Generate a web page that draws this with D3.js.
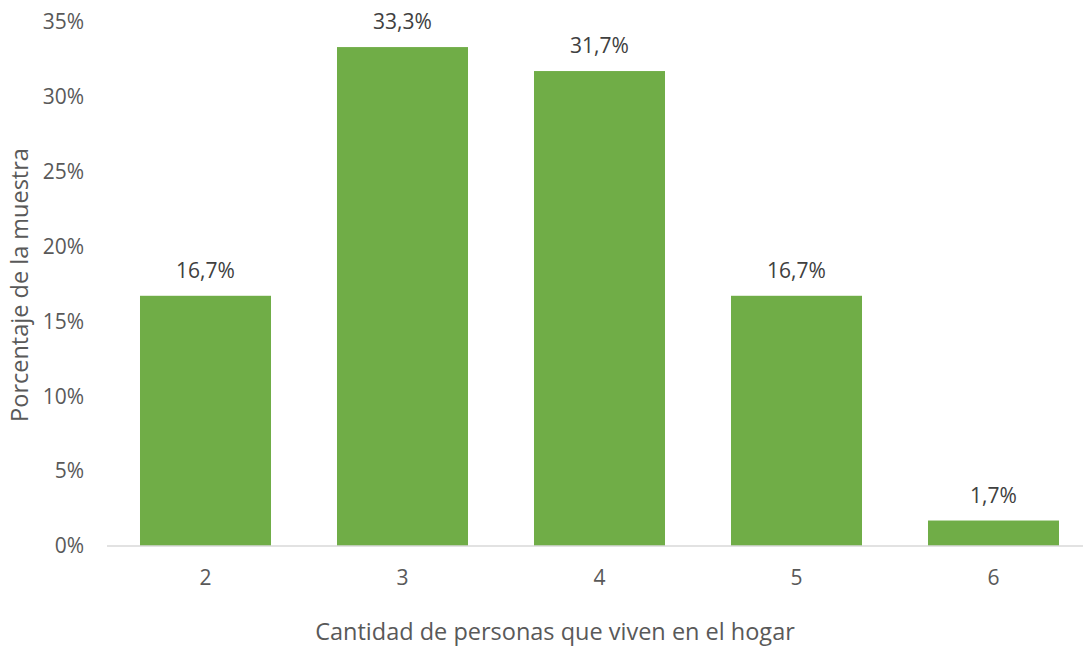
<!DOCTYPE html>
<html>
<head>
<meta charset="utf-8">
<script src="https://cdn.jsdelivr.net/npm/d3@7"></script>
<style>
  body { margin: 0; background: #fff; }
  svg { display: block; font-family: "Open Sans", sans-serif; }
</style>
</head>
<body>
<div id="chart"></div>
<script>
const personas = ['2', '3', '4', '5', '6'];
const porcentajes = [16.7, 33.3, 31.7, 16.7, 1.7];
const yTicks = [0, 5, 10, 15, 20, 25, 30, 35];

const W = 1083, H = 646;
const plot = { left: 107, right: 1092, top: 21.6, bottom: 546 };

const svg = d3.select('#chart')
  .append('svg')
  .attr('width', W)
  .attr('height', H);

const x = d3.scaleBand()
  .domain(personas)
  .range([plot.left, plot.right])
  .paddingInner(0.335)
  .paddingOuter(0.1675);

const y = d3.scaleLinear()
  .domain([0, 35])
  .range([plot.bottom, plot.top]);

// y tick labels
svg.selectAll('.yLabel')
  .data(yTicks)
  .enter()
  .append('text')
  .attr('class', 'yLabel')
  .attr('x', 84)
  .attr('y', d => y(d))
  .attr('dy', '0.35em')
  .attr('text-anchor', 'end')
  .attr('fill', '#595959')
  .style('font-size', '21px')
  .text(d => d + '%');

// bars
svg.selectAll('.bar')
  .data(porcentajes)
  .enter()
  .append('rect')
  .attr('class', 'bar')
  .attr('x', (d, i) => x(personas[i]))
  .attr('y', d => y(d))
  .attr('width', x.bandwidth())
  .attr('height', d => y(0) - y(d))
  .attr('fill', '#70ad47');

// baseline
svg.append('line')
  .attr('x1', plot.left)
  .attr('x2', W)
  .attr('y1', y(0))
  .attr('y2', y(0))
  .attr('stroke', '#d9d9d9')
  .attr('stroke-width', 1.5);

// value labels
svg.selectAll('.valLabel')
  .data(porcentajes)
  .enter()
  .append('text')
  .attr('class', 'valLabel')
  .attr('x', (d, i) => x(personas[i]) + x.bandwidth() / 2)
  .attr('y', d => y(d) - 18)
  .attr('text-anchor', 'middle')
  .attr('fill', '#404040')
  .style('font-size', '21px')
  .text(d => d.toFixed(1).replace('.', ',') + '%');

// x tick labels
svg.selectAll('.xLabel')
  .data(personas)
  .enter()
  .append('text')
  .attr('class', 'xLabel')
  .attr('x', d => x(d) + x.bandwidth() / 2)
  .attr('y', 578)
  .attr('dy', '0.35em')
  .attr('text-anchor', 'middle')
  .attr('fill', '#595959')
  .style('font-size', '21px')
  .text(d => d);

// axis titles
svg.append('text')
  .attr('x', 555)
  .attr('y', 632)
  .attr('dy', '0.35em')
  .attr('text-anchor', 'middle')
  .attr('fill', '#595959')
  .style('font-size', '23.5px')
  .text('Cantidad de personas que viven en el hogar');

svg.append('text')
  .attr('transform', 'translate(20,285) rotate(-90)')
  .attr('dy', '0.35em')
  .attr('text-anchor', 'middle')
  .attr('fill', '#595959')
  .style('font-size', '23.5px')
  .text('Porcentaje de la muestra');
</script>
</body>
</html>
